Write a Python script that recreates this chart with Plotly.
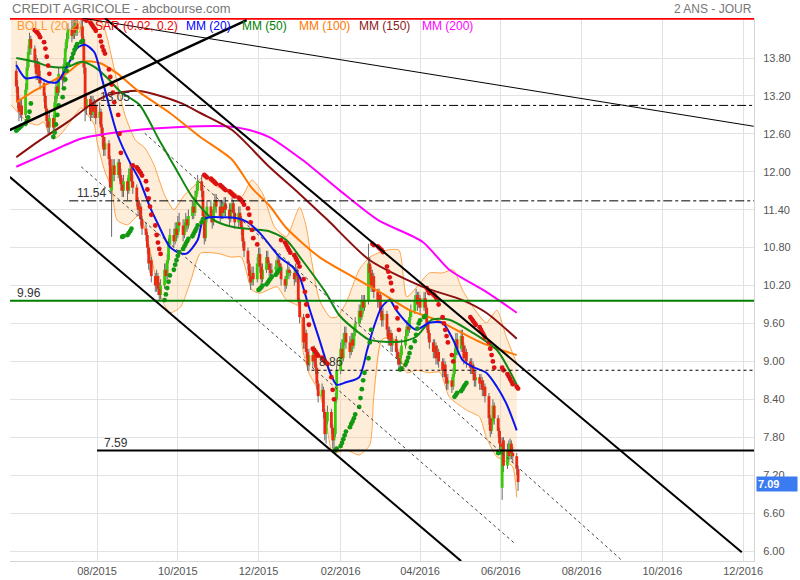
import plotly.graph_objects as go
import pandas as pd

# ---------------- daily candles (one row per week, Mon..Fri) ----------------
opens = [
 13.60,13.35,13.10,12.95,13.05, 12.90,13.30,13.65,13.90,14.10, 13.95,13.75,13.55,13.70,13.50,
 13.40,13.20,13.00,12.80,12.70, 12.85,12.70,13.10,13.35,13.25, 13.55,13.45,13.70,13.95,14.10,
 14.25,14.15,14.30,14.20,14.35, 14.25,14.30,14.10,13.65,13.00, 13.15,12.90,13.10,12.95,13.05,
 12.85,12.95,12.70,12.55,12.35, 12.45,12.20,11.70,11.95,12.10, 11.95,12.15,11.95,11.80,11.70,
 11.85,11.70,11.95,12.05,11.85, 11.75,11.55,11.40,11.45,11.25, 11.10,11.00,10.80,10.55,10.60,
 10.35,10.20,10.35,10.15,10.05, 10.20,10.45,10.35,10.60,10.85, 11.00,10.90,11.10,11.00,11.20,
 11.15,11.00,11.10,11.25,11.15, 11.30,11.45,11.35,11.60,11.70, 11.85,11.70,11.30,10.95,11.25,
 11.45,11.30,11.20,11.40,11.55, 11.45,11.30,11.45,11.35,11.50, 11.40,11.25,11.40,11.50,11.35,
 11.20,11.35,11.25,11.10,10.90, 10.75,10.55,10.35,10.25,10.40, 10.30,10.55,10.70,10.50,10.30,
 10.45,10.65,10.55,10.45,10.40, 10.45,10.50,10.60,10.55,10.50, 10.30,10.20,10.35,10.45,10.40,
 10.40,10.30,10.45,10.35,9.95, 9.70,9.30,9.45,9.15,8.95, 9.10,9.00,9.15,8.90,8.65,
 8.45,8.55,8.20,7.85,8.05, 8.20,7.95,7.75,7.85,8.40, 8.85,9.20,9.05,9.35,9.45,
 9.30,9.15,9.35,9.25,9.45, 9.60,9.80,9.70,9.95,9.85, 9.95,10.55,10.40,10.20,10.35,
 10.10,9.95,10.05,9.80,9.65, 9.75,9.50,9.35,9.45,9.25, 9.35,9.15,9.05,8.95,9.10,
 9.25,9.40,9.55,9.50,9.70, 9.80,9.95,10.05,9.90,10.00, 9.85,10.00,9.85,9.60,9.45,
 9.30,9.15,9.25,9.05,9.15, 9.00,8.85,8.95,8.75,8.65, 8.70,8.60,8.80,9.10,9.35,
 9.20,9.40,9.25,9.05,9.15, 9.00,8.90,8.95,8.80,8.70, 8.75,8.65,8.70,8.55,8.60,
 8.45,8.10,7.90,8.05,8.30, 8.10,7.90,7.70,7.00,7.75, 7.35,7.60,7.50,7.70,7.55,
 7.50,7.30]
closes = [
 13.35,13.10,12.95,13.05,12.90, 13.30,13.65,13.90,14.10,13.95, 13.75,13.55,13.70,13.50,13.40,
 13.20,13.00,12.80,12.70,12.85, 12.70,13.10,13.35,13.25,13.55, 13.45,13.70,13.95,14.10,14.25,
 14.15,14.30,14.20,14.35,14.25, 14.30,14.10,13.65,13.00,13.15, 12.90,13.10,12.95,13.05,12.85,
 12.95,12.70,12.55,12.35,12.45, 12.20,11.75,11.95,12.10,11.95, 12.15,11.95,11.80,11.70,11.85,
 11.70,11.95,12.05,11.85,11.75, 11.55,11.40,11.45,11.25,11.10, 11.00,10.80,10.55,10.60,10.35,
 10.20,10.35,10.15,10.05,10.20, 10.45,10.35,10.60,10.85,11.00, 10.90,11.10,11.00,11.20,11.15,
 11.00,11.10,11.25,11.15,11.30, 11.45,11.35,11.60,11.70,11.85, 11.70,11.30,10.95,11.25,11.45,
 11.30,11.20,11.40,11.55,11.45, 11.30,11.45,11.35,11.50,11.40, 11.25,11.40,11.50,11.35,11.20,
 11.35,11.25,11.10,10.90,10.75, 10.55,10.35,10.25,10.40,10.30, 10.55,10.70,10.50,10.30,10.45,
 10.65,10.55,10.45,10.40,10.45, 10.50,10.60,10.55,10.50,10.30, 10.20,10.35,10.45,10.40,10.40,
 10.30,10.45,10.35,9.95,9.70, 9.30,9.45,9.15,8.95,9.10, 9.00,9.15,8.90,8.65,8.45,
 8.55,8.20,7.85,8.05,8.20, 7.95,7.75,7.85,8.40,8.85, 9.20,9.05,9.35,9.45,9.30,
 9.15,9.35,9.25,9.45,9.60, 9.80,9.70,9.95,9.85,9.95, 10.55,10.40,10.20,10.35,10.10,
 9.95,10.05,9.80,9.65,9.75, 9.50,9.35,9.45,9.25,9.35, 9.15,9.05,8.95,9.10,9.25,
 9.40,9.55,9.50,9.70,9.80, 9.95,10.05,9.90,10.00,9.85, 10.00,9.85,9.60,9.45,9.30,
 9.15,9.25,9.05,9.15,9.00, 8.85,8.95,8.75,8.65,8.70, 8.60,8.80,9.10,9.35,9.20,
 9.40,9.25,9.05,9.15,9.00, 8.90,8.95,8.80,8.70,8.75, 8.65,8.70,8.55,8.60,8.45,
 8.10,7.90,8.05,8.30,8.10, 7.90,7.70,7.65,7.70,7.35, 7.60,7.50,7.70,7.55,7.50,
 7.30,7.09]
highs = [
 13.75,13.45,13.20,13.15,13.15, 13.40,13.75,14.00,14.20,14.15, 14.00,13.85,13.80,13.75,13.60,
 13.45,13.25,13.05,12.90,12.95, 12.90,13.20,13.45,13.50,13.65, 13.65,13.80,14.05,14.20,14.35,
 14.40,14.40,14.40,14.42,14.42, 14.42,14.40,14.15,13.70,13.25, 13.20,13.20,13.20,13.15,13.10,
 13.10,13.00,12.75,12.60,12.55, 12.50,12.25,12.05,12.20,12.20, 12.20,12.20,12.05,11.90,11.95,
 11.90,12.05,12.15,12.10,11.95, 11.80,11.60,11.55,11.50,11.30, 11.20,11.05,10.85,10.70,10.65,
 10.40,10.45,10.40,10.25,10.30, 10.55,10.55,10.70,10.95,11.10, 11.10,11.20,11.20,11.30,11.35,
 11.25,11.20,11.35,11.30,11.40, 11.55,11.55,11.70,11.80,11.95, 11.95,11.75,11.35,11.35,11.55,
 11.55,11.40,11.50,11.65,11.65, 11.55,11.55,11.55,11.60,11.60, 11.50,11.50,11.60,11.55,11.40,
 11.45,11.45,11.30,11.15,10.95, 10.80,10.60,10.45,10.50,10.50, 10.65,10.80,10.80,10.55,10.55,
 10.75,10.75,10.60,10.55,10.55, 10.60,10.70,10.70,10.65,10.55, 10.35,10.45,10.55,10.50,10.45,
 10.45,10.55,10.50,10.40,10.00, 9.75,9.55,9.50,9.20,9.20, 9.20,9.25,9.20,8.95,8.70,
 8.65,8.60,8.25,8.15,8.30, 8.25,8.00,7.95,8.50,8.95, 9.30,9.35,9.45,9.55,9.55,
 9.40,9.45,9.45,9.55,9.70, 9.90,9.90,10.05,10.05,10.05, 10.86,10.65,10.50,10.45,10.40,
 10.15,10.15,10.10,9.85,9.85, 9.80,9.55,9.55,9.50,9.45, 9.40,9.20,9.15,9.20,9.35,
 9.50,9.65,9.65,9.80,9.90, 10.05,10.15,10.10,10.10,10.05, 10.10,10.10,9.90,9.65,9.50,
 9.35,9.35,9.30,9.25,9.20, 9.05,9.05,9.00,8.80,8.80, 8.75,8.90,9.20,9.45,9.45,
 9.50,9.50,9.30,9.25,9.20, 9.05,9.05,9.00,8.85,8.85, 8.80,8.80,8.75,8.70,8.65,
 8.50,8.15,8.10,8.40,8.35, 8.15,7.95,7.80,7.80,7.80, 7.70,7.75,7.78,7.75,7.65,
 7.55,7.35]
lows = [
 13.25,13.00,12.80,12.85,12.80, 12.85,13.25,13.60,13.85,13.85, 13.65,13.45,13.45,13.40,13.30,
 13.10,12.90,12.70,12.60,12.60, 12.55,12.65,13.00,13.15,13.20, 13.30,13.40,13.65,13.90,14.05,
 14.05,14.10,14.10,14.15,14.15, 14.15,14.00,13.55,12.80,12.90, 12.80,12.85,12.85,12.85,12.75,
 12.75,12.60,12.40,12.25,12.25, 12.10,11.65,10.97,11.85,11.85, 11.90,11.85,11.70,11.60,11.60,
 11.55,11.65,11.85,11.75,11.65, 11.45,11.30,11.25,11.15,11.00, 10.90,10.70,10.45,10.40,10.25,
 10.10,10.10,10.05,9.97,9.98, 10.15,10.25,10.30,10.55,10.80, 10.80,10.85,10.90,10.95,11.05,
 10.90,10.95,11.05,11.05,11.10, 11.25,11.25,11.30,11.55,11.65, 11.60,11.20,10.85,10.90,11.20,
 11.20,11.10,11.15,11.35,11.35, 11.20,11.25,11.25,11.30,11.30, 11.15,11.20,11.35,11.25,11.10,
 11.10,11.15,11.00,10.80,10.65, 10.45,10.25,10.13,10.20,10.20, 10.25,10.50,10.40,10.20,10.25,
 10.40,10.45,10.35,10.30,10.35, 10.40,10.45,10.45,10.45,10.20, 10.10,10.15,10.30,10.30,10.35,
 10.20,10.25,10.25,9.90,9.60, 9.20,9.20,9.05,8.85,8.85, 8.90,8.95,8.80,8.55,8.35,
 8.40,8.10,7.75,7.70,8.00, 7.85,7.62,7.59,7.80,8.35, 8.80,8.95,9.00,9.25,9.20,
 9.05,9.10,9.15,9.20,9.40, 9.55,9.60,9.65,9.75,9.80, 9.90,10.30,10.10,10.10,10.00,
 9.85,9.85,9.70,9.55,9.55, 9.40,9.25,9.25,9.15,9.15, 9.05,8.95,8.87,8.88,9.05,
 9.20,9.35,9.40,9.45,9.65, 9.75,9.90,9.80,9.85,9.75, 9.80,9.75,9.50,9.35,9.20,
 9.05,9.05,8.95,8.95,8.90, 8.75,8.75,8.65,8.55,8.55, 8.50,8.55,8.75,9.05,9.10,
 9.15,9.15,8.95,9.00,8.90, 8.80,8.80,8.70,8.60,8.60, 8.55,8.55,8.45,8.45,8.35,
 8.00,7.80,7.85,8.00,8.00, 7.80,7.60,7.55,6.81,7.25, 7.30,7.40,7.45,7.45,7.40,
 7.20,6.95]
# parabolic SAR, one value per trading day
sar = [
 12.65,12.67,12.69,12.71,12.73, 12.76,12.80,12.86,12.95,13.08, 14.24,14.22,14.20,14.17,14.13,
 14.05,13.95,13.82,13.68,13.55, 12.55,12.62,12.75,12.90,13.05, 13.18,13.32,13.46,13.60,13.70,
 13.80,13.87,13.93,13.98,14.02, 14.05,14.07,14.42,14.41,14.39, 14.36,14.33,14.30,14.27,14.23,
 14.15,14.06,13.98,13.92,13.87, 13.62,13.50,13.38,13.25,13.10, 12.90,12.60,12.30,10.97,10.98,
 11.00,11.03,11.06,11.10,12.10, 12.07,12.04,12.01,11.98,11.94, 11.85,11.72,11.58,11.45,11.32,
 11.15,11.00,10.88,10.78,10.70, 9.97,10.06,10.16,10.26,10.36, 10.45,10.53,10.60,10.67,10.73,
 10.78,10.82,10.86,10.90,10.94, 10.98,11.02,11.06,11.10,11.15, 11.20,11.25,11.95,11.93,11.91,
 11.89,11.87,11.85,11.83,11.81, 11.79,11.77,11.75,11.73,11.71, 11.69,11.67,11.65,11.63,11.61,
 11.59,11.57,11.55,11.52,11.48, 11.42,11.32,11.20,11.08,10.95, 10.85,10.13,10.15,10.17,10.20,
 10.22,10.25,10.28,10.31,10.34, 10.37,10.40,10.43,10.46,10.92, 10.88,10.84,10.80,10.76,10.72,
 10.68,10.64,10.60,10.56,10.50, 10.30,10.10,9.90,9.72,9.58, 9.20,9.18,9.15,9.12,9.09,
 9.06,9.03,9.00,8.98,8.96, 8.75,8.55,8.40,7.59,7.62, 7.66,7.71,7.77,7.83,7.89,
 7.96,8.01,8.05,8.10,8.16, 8.28,8.42,8.56,8.70,8.82, 9.05,9.30,9.50,10.86,10.84,
 10.82,10.80,10.78,10.76,10.73, 10.50,10.42,10.33,10.24,10.12, 9.85,9.68,9.50,8.87,8.89,
 8.95,9.00,9.06,9.13,9.22, 9.32,9.42,9.52,9.60,9.65, 9.70,9.72,10.16,10.12,10.08,
 10.06,10.04,10.01,9.98,9.90, 9.70,9.60,9.50,9.40,9.30, 9.10,9.00,8.44,8.47,8.50,
 8.53,8.56,8.60,8.63,8.66, 9.70,9.67,9.64,9.61,9.58, 9.54,9.50,9.46,9.42,9.38,
 9.30,9.20,9.10,9.00,8.90, 7.55,7.56,7.57,8.90,8.86, 8.80,8.76,8.72,8.68,8.64,
 8.60,8.57]

# ---------------- moving averages (read at sample dates) ----------------
mm20_dates = ['2015-06-01','2015-06-08','2015-06-17','2015-06-25','2015-07-02','2015-07-10','2015-07-17','2015-07-23',
              '2015-07-30','2015-08-05','2015-08-16','2015-08-26','2015-09-02','2015-09-10','2015-09-17','2015-09-25',
              '2015-10-03','2015-10-08','2015-10-16','2015-10-20','2015-10-25','2015-11-04','2015-11-14','2015-11-22',
              '2015-12-02','2015-12-17','2015-12-27','2016-01-01','2016-01-08','2016-01-16','2016-01-24','2016-01-29',
              '2016-02-05','2016-02-15','2016-02-21','2016-02-26','2016-03-03','2016-03-09','2016-03-14','2016-03-22',
              '2016-03-29','2016-04-08','2016-04-18','2016-04-26','2016-05-03','2016-05-11','2016-05-21','2016-05-29',
              '2016-06-05','2016-06-13']
mm20_vals = [13.69,13.48,13.50,13.42,13.42,13.69,13.96,14.01,13.89,13.45,12.61,12.14,11.87,11.44,11.13,10.81,
             10.71,10.71,10.92,11.24,11.28,11.28,11.27,11.21,11.03,10.65,10.49,10.34,9.86,9.34,8.82,8.63,
             8.67,8.75,9.18,9.54,9.86,9.97,9.81,9.61,9.50,9.61,9.61,9.34,9.02,8.91,8.82,8.60,8.34,7.91]
mm50_dates = ['2015-06-01','2015-06-15','2015-06-27','2015-07-10','2015-07-20','2015-07-30','2015-08-09','2015-08-19',
              '2015-09-02','2015-09-17','2015-09-30','2015-10-12','2015-10-28','2015-11-11','2015-11-26','2015-12-09',
              '2015-12-22','2016-01-03','2016-01-21','2016-01-31','2016-02-15','2016-02-23','2016-03-16','2016-03-29',
              '2016-04-10','2016-04-23','2016-05-11','2016-05-29','2016-06-13']
mm50_vals = [13.80,13.74,13.66,13.66,13.74,13.66,13.48,13.26,13.06,12.50,12.03,11.60,11.24,11.13,11.09,11.06,
             10.92,10.60,10.08,9.73,9.45,9.34,9.31,9.39,9.66,9.66,9.45,9.18,8.63]
mm100_dates = ['2015-06-01','2015-06-13','2015-07-09','2015-07-21','2015-08-03','2015-08-16','2015-09-02','2015-09-25',
               '2015-10-18','2015-11-11','2015-11-26','2015-12-09','2015-12-22','2016-01-16','2016-02-10','2016-03-03',
               '2016-03-24','2016-04-13','2016-05-18','2016-06-13']
mm100_vals = [13.10,13.26,13.56,13.74,13.72,13.56,13.26,12.93,12.55,12.19,11.74,11.47,11.11,10.65,10.34,10.08,
              9.81,9.66,9.29,9.10]
mm150_dates = ['2015-06-01','2015-06-19','2015-07-10','2015-07-27','2015-08-09','2015-09-02','2015-10-03','2015-10-18',
               '2015-11-11','2015-12-09','2016-01-01','2016-01-22','2016-02-23','2016-04-03','2016-05-03','2016-05-21',
               '2016-06-13']
mm150_vals = [12.23,12.50,12.79,13.06,13.21,13.28,13.09,12.93,12.66,12.08,11.65,11.24,10.60,10.18,9.97,9.77,9.36]
mm200_dates = ['2015-06-01','2015-06-26','2015-07-21','2015-08-26','2015-10-03','2015-11-07','2015-11-24','2015-12-09',
               '2016-01-03','2016-01-31','2016-02-29','2016-04-03','2016-04-23','2016-05-21','2016-06-13']
mm200_vals = [12.08,12.31,12.53,12.65,12.71,12.72,12.66,12.55,12.19,11.71,11.24,10.89,10.45,10.10,9.77]

# ---------------- Bollinger (20,2) ----------------
boll_up_dates = ['2015-05-28','2015-06-18','2015-07-12','2015-07-30','2015-08-07','2015-08-15','2015-08-22','2015-08-30',
                 '2015-09-06','2015-09-13','2015-09-21','2015-09-28','2015-10-06','2015-10-14','2015-10-20','2015-10-31',
                 '2015-11-10','2015-11-18','2015-11-26','2015-12-04','2015-12-13','2015-12-22','2016-01-01','2016-01-06',
                 '2016-01-10','2016-01-16','2016-01-24','2016-01-29','2016-02-05','2016-02-15','2016-02-23','2016-03-07',
                 '2016-03-16','2016-03-22','2016-04-01','2016-04-08','2016-04-18','2016-04-26','2016-05-03','2016-05-11',
                 '2016-05-21','2016-05-29','2016-06-05','2016-06-13']
boll_up = [14.56,14.59,14.62,14.56,14.24,13.53,12.90,12.50,12.38,12.11,11.63,11.40,11.63,11.79,11.92,11.76,
           11.71,11.60,11.87,11.66,11.13,10.97,11.44,11.13,10.60,9.97,9.70,9.70,9.92,10.45,10.65,10.76,
           10.76,10.02,10.24,10.40,10.40,10.45,10.13,9.86,9.61,9.81,9.39,8.97]
boll_lo_dates = ['2015-05-28','2015-06-04','2015-06-09','2015-06-17','2015-06-22','2015-06-25','2015-06-30','2015-07-04',
                 '2015-07-12','2015-07-20','2015-07-25','2015-07-30','2015-08-01','2015-08-07','2015-08-12','2015-08-16',
                 '2015-08-24','2015-09-02','2015-09-10','2015-09-17','2015-09-25','2015-10-03','2015-10-11','2015-10-18',
                 '2015-10-31','2015-11-10','2015-11-18','2015-11-26','2015-12-02','2015-12-15','2015-12-22','2016-01-01',
                 '2016-01-03','2016-01-08','2016-01-16','2016-01-21','2016-01-26','2016-02-05','2016-02-15','2016-02-23',
                 '2016-02-26','2016-03-03','2016-03-11','2016-03-16','2016-03-22','2016-03-29','2016-04-08','2016-04-16',
                 '2016-04-23','2016-05-06','2016-05-16','2016-05-21','2016-05-29','2016-06-03','2016-06-10','2016-06-13']
boll_lo = [13.06,12.90,12.79,12.74,12.79,12.63,12.53,12.58,12.79,13.01,12.90,12.74,12.47,12.00,11.74,11.24,
           11.16,11.32,10.76,10.08,9.77,9.86,10.29,10.71,10.71,10.65,10.65,10.13,10.08,10.18,9.97,9.86,
           9.23,8.82,8.50,8.07,7.55,7.60,7.52,7.68,8.44,9.34,9.39,9.13,8.82,8.86,8.82,8.83,
           8.44,8.23,8.12,7.80,7.49,7.44,7.33,6.85]

# ---------------- levels, trend lines, axis ticks ----------------
levels = [  # value, start date, style, color, width, label, label date
    (13.05, '2015-07-26', 'dashdot', '#000000', 1, '13.05', '2015-08-02'),
    (11.54, '2015-07-11', 'dashdot', '#000000', 1, '11.54', '2015-07-15'),
    (9.96, '2015-05-27', 'solid', '#008000', 2, '9.96', '2015-05-31'),
    (8.86, '2016-01-10', 'dot', '#000000', 1, '8.86', '2016-01-14'),
    (7.59, '2015-08-01', 'solid', '#000000', 2, '7.59', '2015-08-05'),
]
top_level = 14.42
trend_lines = [  # x0, y0, x1, y1, width, dash
    ('2015-07-21', 14.43, '2016-12-09', 12.72, 1, 'solid'),
    ('2015-05-27', 12.66, '2015-11-22', 14.40, 2.5, 'solid'),
    ('2015-08-07', 14.43, '2016-11-30', 5.98, 2, 'solid'),
    ('2015-05-27', 11.92, '2016-05-02', 5.84, 2, 'solid'),
    ('2015-09-06', 12.61, '2016-08-31', 5.86, 1, 'dot'),
    ('2015-07-20', 12.08, '2016-06-11', 6.13, 1, 'dot'),
]
x_tick_dates = ['2015-08-01','2015-10-01','2015-12-01','2016-02-01','2016-04-01','2016-06-01',
                '2016-08-01','2016-10-01','2016-12-01']
x_tick_text = ['08/2015','10/2015','12/2015','02/2016','04/2016','06/2016','08/2016','10/2016','12/2016']
y_ticks = [6.00,6.60,7.20,7.80,8.40,9.00,9.60,10.20,10.80,11.40,12.00,12.60,13.20,13.80]
last_price = 7.09
legend_items = [('BOLL (20,2)', '#ff9933', 0.0067), ('SAR (0.02, 0.2)', '#ee0000', 0.112),
                ('MM (20)', '#0000ff', 0.234), ('MM (50)', '#008000', 0.309),
                ('MM (100)', '#ff7700', 0.386), ('MM (150)', '#8b1a1a', 0.467),
                ('MM (200)', '#ff00ff', 0.551)]

FONT = 'Liberation Sans, Arial, sans-serif'
dates = pd.bdate_range('2015-06-01', periods=len(closes))

fig = go.Figure()

# Bollinger band area
fig.add_trace(go.Scatter(x=boll_up_dates + boll_lo_dates[::-1], y=boll_up + boll_lo[::-1],
                         fill='toself', fillcolor='rgba(250,200,140,0.33)', mode='lines',
                         line=dict(width=0), hoverinfo='skip'))
for d, v in ((boll_up_dates, boll_up), (boll_lo_dates, boll_lo)):
    fig.add_trace(go.Scatter(x=d, y=v, mode='lines', line=dict(color='#ffa347', width=1, shape='spline', smoothing=0.6)))

# candle wicks
wx, wy = [], []
for d, h, l in zip(dates, highs, lows):
    wx += [d, d, None]
    wy += [l, h, None]
fig.add_trace(go.Scatter(x=wx, y=wy, mode='lines', line=dict(color='#6a6a6a', width=1), hoverinfo='skip'))
# candle bodies (thick segments open -> close)
for up, col in ((True, '#36cc0a'), (False, '#ea2a14')):
    bx, by = [], []
    for d, o, c in zip(dates, opens, closes):
        if (c >= o) == up:
            lo_, hi_ = min(o, c), max(o, c)
            if hi_ - lo_ < 0.02:
                hi_ = lo_ + 0.02
            bx += [d, d, None]
            by += [lo_, hi_, None]
    fig.add_trace(go.Scatter(x=bx, y=by, mode='lines', line=dict(color=col, width=2.8), hoverinfo='skip'))

# moving averages
for d, v, c in ((mm200_dates, mm200_vals, '#ff00ff'), (mm150_dates, mm150_vals, '#8b1010'),
                (mm100_dates, mm100_vals, '#ff7700'), (mm50_dates, mm50_vals, '#118811'),
                (mm20_dates, mm20_vals, '#0a14ee')):
    fig.add_trace(go.Scatter(x=d, y=v, mode='lines', line=dict(color=c, width=2, shape='spline', smoothing=0.7)))

# SAR
sar_c = ['#dd1111' if s > c else '#119911' for s, c in zip(sar, closes)]
fig.add_trace(go.Scatter(x=dates, y=sar, mode='markers', marker=dict(color=sar_c, size=4.8)))

shapes = []
shapes.append(dict(type='line', xref='paper', x0=0, x1=1, yref='y', y0=top_level, y1=top_level,
                   line=dict(color='#ff0000', width=2)))
annotations = []
for val, start, dash, col, w, lab, labd in levels:
    shapes.append(dict(type='line', xref='x', x0=start, x1='2016-12-09 05:00', yref='y', y0=val, y1=val,
                       line=dict(color=col, width=w, dash=dash)))
    annotations.append(dict(x=labd, y=val, xref='x', yref='y', text=lab, showarrow=False,
                            xanchor='left', yanchor='bottom', yshift=-1,
                            font=dict(family=FONT, size=12, color='#333333')))
for x0, y0, x1, y1, w, dash in trend_lines:
    shapes.append(dict(type='line', xref='x', yref='y', x0=x0, y0=y0, x1=x1, y1=y1,
                       line=dict(color='#000000' if dash == 'solid' else '#444444', width=w, dash=dash)))

annotations.append(dict(x=0, y=1.0166, xref='paper', yref='paper', xanchor='left', yanchor='middle',
                        text='CREDIT AGRICOLE - abcbourse.com', showarrow=False,
                        font=dict(family=FONT, size=13, color='#777777')))
annotations.append(dict(x=1, y=1.0166, xref='paper', yref='paper', xanchor='right', yanchor='middle',
                        text='2 ANS - JOUR', showarrow=False, font=dict(family=FONT, size=12, color='#777777')))
for txt, col, px in legend_items:
    annotations.append(dict(x=px, y=0.986, xref='paper', yref='paper', xanchor='left', yanchor='middle',
                            text=txt, showarrow=False, font=dict(family=FONT, size=12, color=col)))
annotations.append(dict(x=1.003, y=last_price, xref='paper', yref='y', xanchor='left', yanchor='middle',
                        text='<b>%.2f</b>' % last_price, showarrow=False, bgcolor='#3b7bf2', width=38,
                        align='left', borderpad=1, yshift=-2, font=dict(family=FONT, size=11, color='#ffffff')))

fig.update_layout(
    width=800, height=580, margin=dict(l=10, r=46, t=18, b=19, autoexpand=False),
    plot_bgcolor='#ffffff', paper_bgcolor='#ffffff', showlegend=False,
    shapes=shapes, annotations=annotations,
    xaxis=dict(type='date', range=['2015-05-27 06:00', '2016-12-09 05:00'], automargin=False,
               tickvals=x_tick_dates, ticktext=x_tick_text, showgrid=True, gridcolor='#e2e2e2',
               tickfont=dict(family=FONT, size=11, color='#555555'), showline=True, linecolor='#d5d5d5',
               zeroline=False, ticks=''),
    yaxis=dict(side='right', range=[5.842, 14.433], tickvals=y_ticks, ticktext=['%.2f' % t for t in y_ticks],
               automargin=False, showgrid=True, gridcolor='#e2e2e2',
               tickfont=dict(family=FONT, size=11, color='#555555'),
               showline=True, linecolor='#d5d5d5', zeroline=False, ticks='', ticklabelstandoff=6),
)
fig.write_html('out.html', config={'displayModeBar': False, 'staticPlot': True},
               post_script="document.body.style.margin='0';document.body.style.overflow='hidden';")
